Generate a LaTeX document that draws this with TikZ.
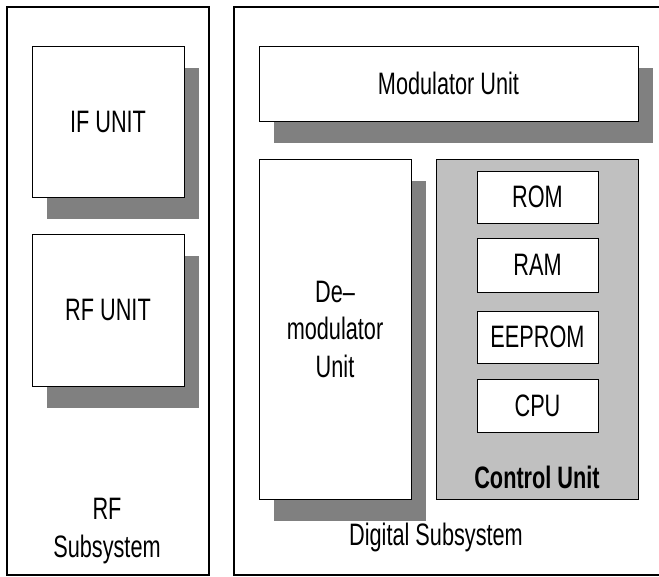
\documentclass[tikz,border=0pt]{standalone}
\usepackage{fontspec}
\setmainfont{Liberation Sans}[FakeStretch=0.70]
\usepackage{tikz}
\usetikzlibrary{shadows}

\definecolor{shadegray}{RGB}{128,128,128}
\definecolor{ctrlgray}{RGB}{192,192,192}

\tikzset{
  subsys/.style={draw, line width=1.2pt, inner sep=0pt},
  unitbox/.style={draw, fill=white, line width=0.8pt, inner sep=0pt, align=center,
    drop shadow={shadow xshift=15pt, shadow yshift=-22pt, fill=shadegray, opacity=1}},
  membox/.style={draw, fill=white, line width=0.8pt, inner sep=0pt, minimum width=121pt},
  txt/.style={inner sep=0pt, align=center}
}

\begin{document}
\begin{tikzpicture}[x=1pt, y=-1pt, font=\fontsize{31}{37.5}\selectfont]
        \useasboundingbox (0,0) rectangle (659,577);

        \node[subsys, minimum width=202pt, minimum height=568pt] (rfsys) at (108,291) {};
        \node[subsys, minimum width=428pt, minimum height=568pt] (digsys) at (448,291) {};

        \node[unitbox, minimum width=152pt, minimum height=151pt] (ifunit) at (108,121.5) {IF UNIT};
        \node[unitbox, minimum width=152pt, minimum height=152pt] (rfunit) at (108,310) {RF UNIT};
        \node[txt] (rflabel) at (107,531) {RF\\Subsystem};

        \node[unitbox, minimum width=379pt, minimum height=75pt] (modunit) at (448.5,83.5) {Modulator Unit};
        \node[unitbox, minimum width=152pt, minimum height=340pt] (demodunit) at (335,329) {De--\\modulator\\Unit};

        \node[draw, fill=ctrlgray, line width=0.8pt, minimum width=202pt, minimum height=340pt] (ctrlunit) at (537,329) {};
        \node[membox, minimum height=52pt] (rom) at (537.5,197) {ROM};
        \node[membox, minimum height=54pt] (ram) at (537.5,265) {RAM};
        \node[membox, minimum height=52pt] (eeprom) at (537.5,337) {EEPROM};
        \node[membox, minimum height=53pt] (cpu) at (537.5,405.5) {CPU};
        \node[txt, font=\fontsize{31}{37.5}\selectfont\bfseries] (ctrllabel) at (537,477) {Control Unit};

        \node[txt] (diglabel) at (436,537) {Digital Subsystem};
    \end{tikzpicture}
\end{document}
